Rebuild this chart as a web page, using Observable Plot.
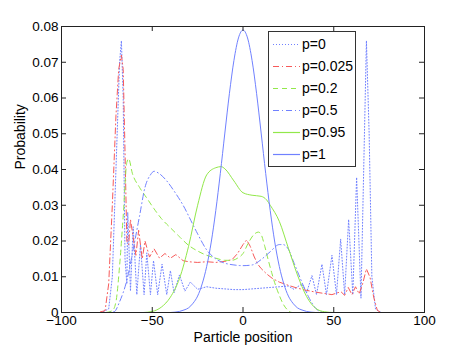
<!DOCTYPE html>
<html>
<head>
<meta charset="utf-8">
<script src="https://cdn.jsdelivr.net/npm/d3@7"></script>
<script src="https://cdn.jsdelivr.net/npm/@observablehq/plot@0.6"></script>
<style>
  body { margin: 0; background: #fff; font-family: "Liberation Sans", Arial, sans-serif; }
  #wrap { position: relative; width: 469px; height: 352px; }
</style>
</head>
<body>
<div id="wrap"></div>
<script>
// ---- data ----
const seriesNames = ["p=0", "p=0.025", "p=0.2", "p=0.5", "p=0.95", "p=1"];

const posP0 = [-100,-78,-74,-72,-70,-68,-67,-66,-65,-64,-63.5,-62,-60.5,-58.5,-56.5,-54.5,-53,-51,-49.3,-47,-44.6,-42,-40,-38,-35,-32,-29,-25,-20,-15,-10,-5,0,5,10,15,20,25,28,32.5,35,38,40.5,43.5,46,49,51.5,53.8,56,58.2,60.5,62.6,65,66.5,68,69.5,71,73,76,100];
const probP0 = [0,0,0.001,0.010,0.040,0.070,0.076,0.060,0.015,0.008,0.028,0.006,0.024,0.005,0.019,0.005,0.0167,0.005,0.0145,0.005,0.0135,0.005,0.0117,0.0055,0.0105,0.006,0.0085,0.0065,0.0072,0.0068,0.0066,0.0064,0.0064,0.0066,0.0068,0.0070,0.0072,0.0074,0.0065,0.0080,0.0055,0.0103,0.005,0.0135,0.005,0.0160,0.005,0.0205,0.005,0.026,0.005,0.0378,0.004,0.040,0.076,0.050,0.010,0.001,0,0];

const posP025 = [-100,-80,-76,-74,-72,-70,-68.5,-67,-66,-65,-64,-63,-62,-60.5,-59,-57.5,-55.5,-54,-51.5,-49,-46,-43,-40,-37,-33,-30,-25,-20,-15,-10,-6,-3,0,2,4,6,8,10,13,16,20,25,30,35,40,45,49,52,54,56,58,60,62,64,66,68,70,72,74,76,100];
const probP025 = [0,0,0.0005,0.008,0.030,0.055,0.068,0.072,0.068,0.045,0.020,0.019,0.026,0.021,0.016,0.023,0.015,0.020,0.0155,0.0178,0.0152,0.0165,0.0152,0.0162,0.0145,0.0142,0.0140,0.0142,0.0140,0.0143,0.0148,0.0165,0.0190,0.0203,0.0185,0.0158,0.0136,0.0123,0.0108,0.0096,0.0085,0.0076,0.0068,0.0062,0.0057,0.0053,0.0050,0.0055,0.0058,0.0048,0.0070,0.0050,0.0072,0.0052,0.0082,0.0122,0.0098,0.0043,0.0006,0,0];

const posP02 = [-100,-76,-72,-70,-68,-66,-64,-63,-61,-57,-53,-49,-45,-40,-35,-30,-25,-20,-15,-10,-6,-3,0,3,6,8.5,10,12,14,16,18,20,22,24,27,100];
const probP02 = [0,0,0.0005,0.003,0.013,0.027,0.042,0.043,0.039,0.035,0.032,0.029,0.0263,0.0237,0.0212,0.0188,0.0172,0.0160,0.0152,0.0146,0.0146,0.0152,0.0165,0.0195,0.0218,0.0225,0.0218,0.0185,0.0145,0.0108,0.0075,0.0048,0.0025,0.0010,0,0];

const posP05 = [-100,-75,-71,-68,-64,-60,-57,-54,-51,-49,-46,-42,-38,-33,-28,-25,-20,-15,-10,-5,0,5,10,15,20,22,25,28,30,33,36,40,43,46,100];
const probP05 = [0,0,0.0002,0.003,0.009,0.019,0.027,0.035,0.0385,0.0395,0.0388,0.0368,0.034,0.030,0.025,0.022,0.0175,0.0150,0.0138,0.0133,0.0131,0.0133,0.0148,0.0170,0.0190,0.0190,0.0177,0.014,0.0115,0.0078,0.0045,0.0012,0.0002,0,0];

const posP095 = [-100,-55,-50,-45,-40,-35,-30,-25,-20,-15,-12,-10,-5,0,5,10,13,15,20,25,30,35,40,45,50,100];
const probP095 = [0,0,0.0003,0.0015,0.0043,0.0095,0.0185,0.0300,0.0385,0.0405,0.0408,0.0402,0.0368,0.0335,0.0328,0.0325,0.0315,0.0300,0.0255,0.0180,0.0105,0.0045,0.0012,0.0002,0,0];

const posP1 = [-100,-40,-37.5,-35,-32.5,-30,-27.5,-25,-22.5,-20,-17.5,-15,-12.5,-10,-7.5,-5,-2.5,0,2.5,5,7.5,10,12.5,15,17.5,20,22.5,25,27.5,30,32.5,35,37.5,40,100];
const probP1 = [0,0,0.0001,0.0003,0.0007,0.0013,0.0026,0.0046,0.0080,0.0129,0.0197,0.0285,0.0389,0.0502,0.0612,0.0705,0.0768,0.0790,0.0768,0.0705,0.0612,0.0502,0.0389,0.0285,0.0197,0.0129,0.0080,0.0046,0.0026,0.0013,0.0007,0.0003,0.0001,0,0];

const xTicks = [-100, -50, 0, 50, 100];
const yTicks = [0, 0.01, 0.02, 0.03, 0.04, 0.05, 0.06, 0.07, 0.08];
const xLabel = "Particle position";
const yLabel = "Probability";

// ---- styles ----
const BLUE = "#7081ff", RED = "#f75a5a", GREEN = "#92e84a";
const styles = [
  {stroke: BLUE,  dash: "1,2",      curve: "linear"},
  {stroke: RED,   dash: "6,3,1,3",  curve: "linear"},
  {stroke: GREEN, dash: "5,4",      curve: "monotone-x"},
  {stroke: BLUE,  dash: "6,3,1,3",  curve: "monotone-x"},
  {stroke: GREEN, dash: null,       curve: "monotone-x"},
  {stroke: BLUE,  dash: null,       curve: "monotone-x"}
];
const seriesData = [[posP0, probP0], [posP025, probP025], [posP02, probP02], [posP05, probP05], [posP095, probP095], [posP1, probP1]];

const W = 469, H = 352, mL = 61, mR = 45, mT = 26, mB = 40;
const innerW = W - mL - mR, innerH = H - mT - mB;
const tickLen = 5;

const lineMarks = seriesData.map(([xs, ys], i) => Plot.line(xs.map((x, j) => ({x, y: ys[j]})), {
  x: "x", y: "y", stroke: styles[i].stroke, strokeWidth: 1,
  strokeDasharray: styles[i].dash || undefined, curve: styles[i].curve
}));

const chart = Plot.plot({
  width: W, height: H,
  marginLeft: mL, marginRight: mR, marginTop: mT, marginBottom: mB,
  style: {fontFamily: "'Liberation Sans', Arial, sans-serif", background: "#fff", color: "#000"},
  x: {domain: [-100, 100]},
  y: {domain: [0, 0.08]},
  marks: [
    ...lineMarks,
    Plot.frame({stroke: "#222", strokeWidth: 1}),
    Plot.ruleX(xTicks, {x: d => d, insetTop: innerH - tickLen, stroke: "#222"}),
    Plot.ruleX(xTicks, {x: d => d, insetBottom: innerH - tickLen, stroke: "#222"}),
    Plot.ruleY(yTicks, {y: d => d, insetRight: innerW - tickLen, stroke: "#222"}),
    Plot.ruleY(yTicks, {y: d => d, insetLeft: innerW - tickLen, stroke: "#222"}),
    Plot.axisX(xTicks, {tickSize: 0, tickPadding: 3, fontSize: 13.5, label: null}),
    Plot.axisY(yTicks, {tickSize: 0, tickPadding: 3, fontSize: 13.5, label: null,
      tickFormat: d => d === 0 ? "0" : d.toFixed(2)}),
    Plot.text([xLabel], {text: d => d, frameAnchor: "bottom", dy: 29, fontSize: 14}),
    Plot.text([yLabel], {text: d => d, frameAnchor: "left", dx: -41, rotate: -90, fontSize: 14})
  ]
});

document.getElementById("wrap").appendChild(chart);

// ---- legend drawn into the chart SVG ----
const svg = d3.select(chart);
const lg = svg.append("g").attr("transform", "translate(268,31)").attr("text-anchor", "start");
lg.append("rect").attr("x", 0.5).attr("y", 0.5).attr("width", 87).attr("height", 135)
  .attr("fill", "#fff").attr("stroke", "#333").attr("stroke-width", 1);
const rowY = [13.5, 35.5, 57.5, 79.5, 101.5, 123.5];
seriesNames.forEach((name, i) => {
  const ln = lg.append("line").attr("x1", 5).attr("x2", 32).attr("y1", rowY[i]).attr("y2", rowY[i])
    .attr("stroke", styles[i].stroke).attr("stroke-width", 1.2);
  if (styles[i].dash) ln.attr("stroke-dasharray", styles[i].dash);
  lg.append("text").attr("x", 34).attr("y", rowY[i]).attr("dy", "0.35em")
    .attr("text-anchor", "start").style("text-anchor", "start")
    .attr("font-size", 14).attr("fill", "#000").attr("stroke", "none").text(name);
});
</script>
</body>
</html>
